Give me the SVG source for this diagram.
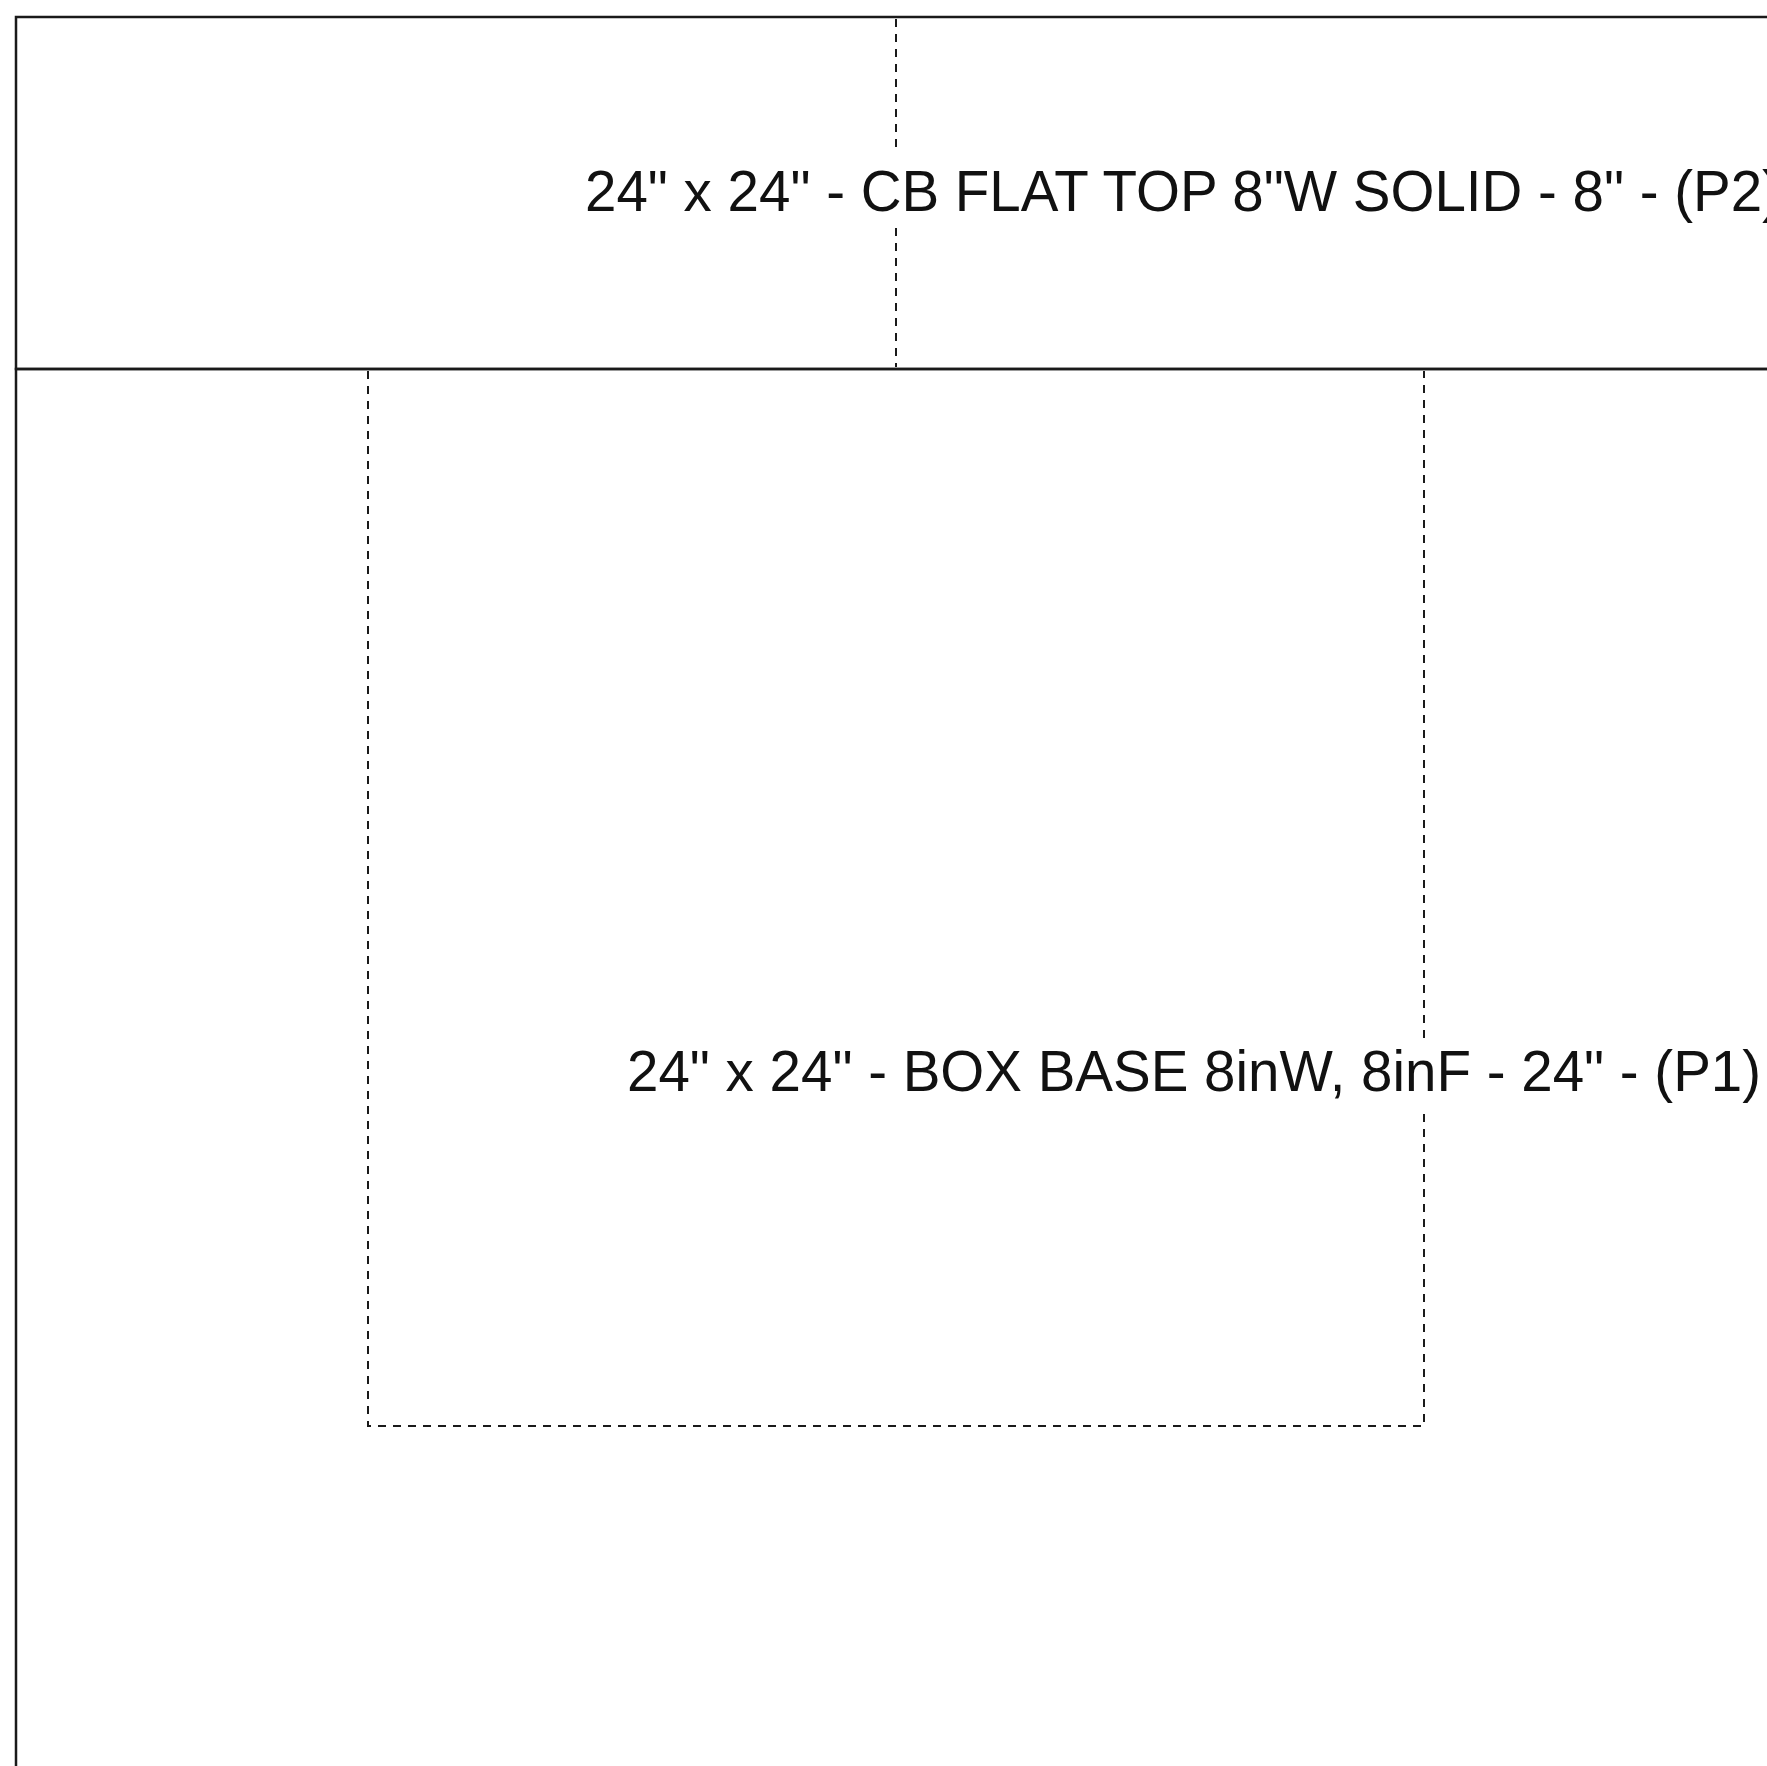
<svg xmlns="http://www.w3.org/2000/svg" width="1767" height="1766" viewBox="0 0 1767 1766">
<style>
.box{fill:none;stroke:#1a1a1a;stroke-width:2.5}
.dash{fill:none;stroke:#1a1a1a;stroke-width:2;stroke-dasharray:8 7}
.lbl{font-family:"Liberation Sans",Arial,sans-serif;font-size:56.5px;fill:#111}
</style>
<rect width="1767" height="1766" fill="#fff"/>
<g id="p2">
<rect class="box" x="16" y="17" width="1760" height="352"/>
<text class="lbl" x="585" y="211">24" x 24" - CB FLAT TOP 8"W SOLID - 8" - (P2)</text>
</g>
<g id="p1">
<rect class="box" x="16" y="369" width="1760" height="1760"/>
<text class="lbl" x="627" y="1091">24" x 24" - BOX BASE 8inW, 8inF - 24" - (P1)</text>
</g>
<g id="connectors">
<path class="dash" d="M896 19V153M896 228V367"/>
<path class="dash" d="M368 371V1426H1424V1110M1424 1038V371"/>
</g>
</svg>
